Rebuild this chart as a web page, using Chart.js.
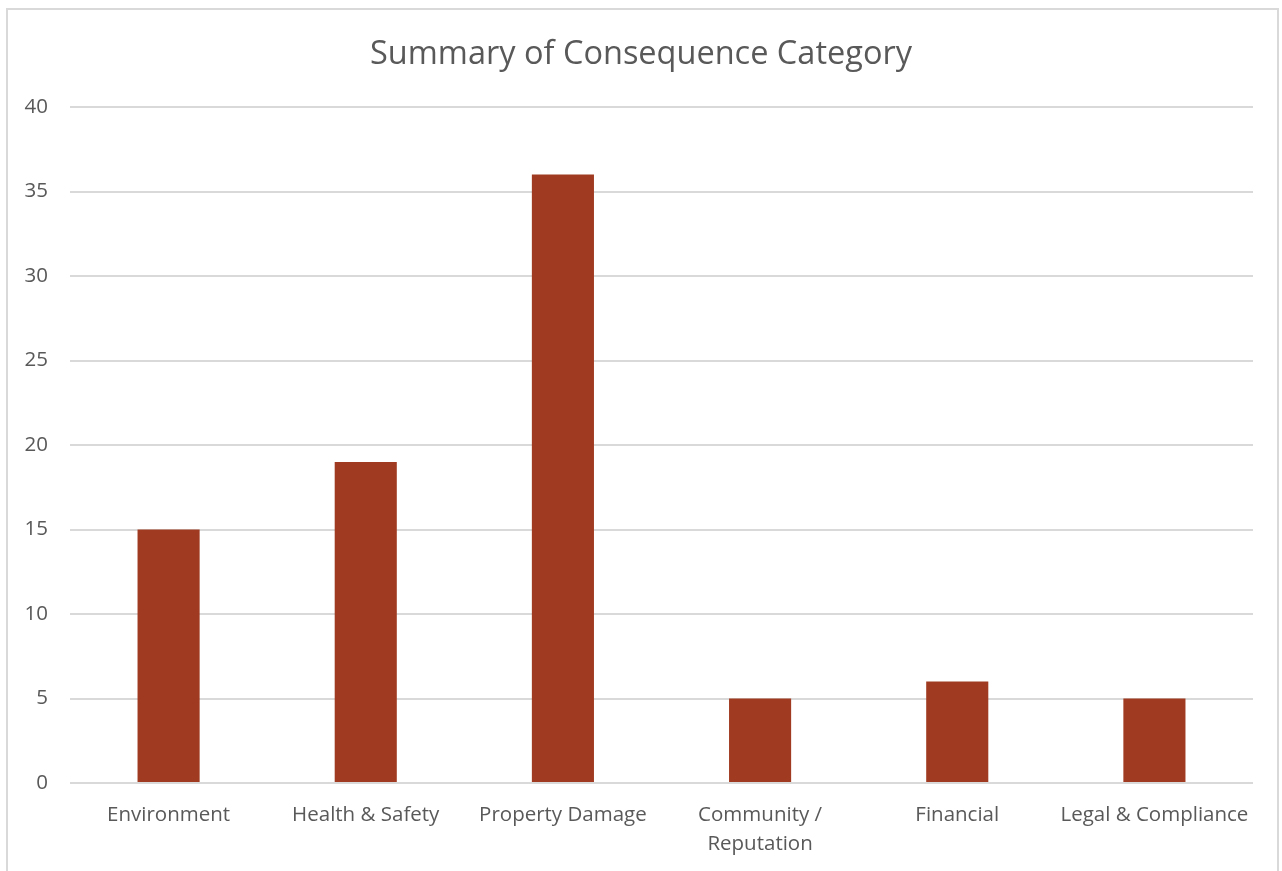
<!DOCTYPE html>
<html>
<head>
<meta charset="utf-8">
<script src="https://cdn.jsdelivr.net/npm/chart.js@4/dist/chart.umd.min.js"></script>
<style>
    body { margin: 0; background: #fff; }
    #frame {
        position: absolute; left: 6px; top: 8px; width: 1273px; height: 900px;
        border: 2px solid #d9d9d9; box-sizing: border-box;
    }
    #wrap { position: absolute; left: 0; top: 0; width: 1282px; height: 871px; }
</style>
</head>
<body>
<div id="frame"></div>
<div id="wrap"><canvas id="chart"></canvas></div>
<script>
// Data kategori
const kategori = ['Environment', 'Health & Safety', 'Property Damage', ['Community /', 'Reputation'], 'Financial', 'Legal & Compliance'];
const jumlah = [15, 19, 36, 5, 6, 5];
const judul = 'Summary of Consequence Category';

const teks = '#595959';

new Chart(document.getElementById('chart'), {
    type: 'bar',
    data: {
        labels: kategori,
        datasets: [{
            data: jumlah,
            backgroundColor: '#A03B22',
            barPercentage: 0.315,
            categoryPercentage: 1
        }]
    },
    options: {
        responsive: true,
        maintainAspectRatio: false,
        animation: false,
        layout: { padding: 0 },
        plugins: {
            legend: { display: false },
            tooltip: { enabled: false },
            title: {
                display: true,
                text: judul,
                color: teks,
                font: { family: 'Open Sans', size: 32.5, weight: 'normal' },
                padding: { top: 35, bottom: 33 }
            }
        },
        scales: {
            x: {
                grid: { display: false },
                border: { display: false },
                ticks: {
                    color: teks,
                    font: { family: 'Open Sans', size: 20.5, lineHeight: 1.4 },
                    padding: 10,
                    maxRotation: 0,
                    autoSkip: false
                },
                afterFit: s => { s.height = 88; }
            },
            y: {
                min: 0,
                max: 40,
                grid: { color: '#d9d9d9', lineWidth: 2, drawTicks: false },
                border: { display: false },
                ticks: {
                    stepSize: 5,
                    color: teks,
                    font: { family: 'Open Sans', size: 20.5 },
                    padding: 22
                },
                afterFit: s => { s.width = 70; }
            },
            // sumbu kosong di kanan supaya judul tetap di tengah
            kanan: {
                position: 'right',
                grid: { display: false },
                border: { display: false },
                ticks: { display: false },
                afterFit: s => { s.width = 29; }
            }
        }
    }
});
</script>
</body>
</html>
